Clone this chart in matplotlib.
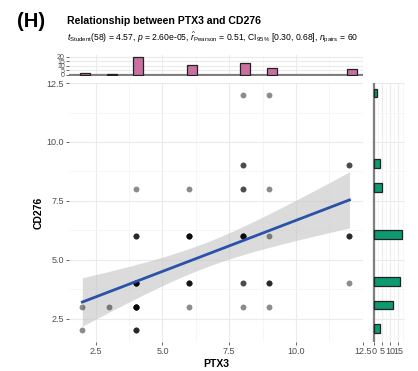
import numpy as np
import matplotlib
matplotlib.use("Agg")
import matplotlib.pyplot as plt

plt.rcParams["font.family"] = ["Liberation Sans", "DejaVu Sans"]
plt.rcParams["mathtext.fontset"] = "custom"
plt.rcParams["mathtext.rm"] = "Liberation Sans"
plt.rcParams["mathtext.it"] = "Liberation Sans:italic"
plt.rcParams["mathtext.bf"] = "Liberation Sans:bold"

# observed (PTX3, CD276) pairs and how many subjects share each pair
pair_x = [2, 2, 3, 4, 4, 4, 4, 4, 6, 6, 6, 6, 8, 8, 8, 8, 8, 8, 9, 9, 9, 9, 9, 12, 12, 12]
pair_y = [2, 3, 3, 2, 3, 4, 6, 8, 3, 4, 6, 8, 3, 4, 6, 8, 9, 12, 3, 4, 6, 8, 12, 4, 6, 9]
pair_n = [1, 1, 1, 3, 7, 6, 3, 1, 1, 4, 5, 1, 1, 2, 5, 2, 2, 1, 1, 3, 1, 1, 1, 1, 3, 2]

x_ticks = [2.5, 5.0, 7.5, 10.0, 12.5]
y_ticks = [2.5, 5.0, 7.5, 10.0, 12.5]
top_ticks = [0, 5, 10, 15, 20]
right_ticks = [0, 5, 10, 15]

subtitle = (r"$t_{\mathrm{Student}}$(58) = 4.57, $p$ = 2.60e-05, "
            r"$\widehat{r}_{\mathrm{Pearson}}$ = 0.51, CI$_{95\%}$ [0.30, 0.68], "
            r"$n_{\mathrm{pairs}}$ = 60")

x = np.repeat(pair_x, pair_n).astype(float)
y = np.repeat(pair_y, pair_n).astype(float)

GRID = "#EBEBEB"
MINOR = "#F5F5F5"
TICKC = "#4D4D4D"

fig = plt.figure(figsize=(4.18, 3.71), dpi=100)
ax = fig.add_axes([0.165, 0.078, 0.703, 0.698])
axt = fig.add_axes([0.165, 0.795, 0.703, 0.057], sharex=ax)
axr = fig.add_axes([0.89, 0.078, 0.079, 0.698], sharey=ax)


def style(a):
    a.set_facecolor("white")
    for s in a.spines.values():
        s.set_visible(False)
    a.tick_params(colors=TICKC, labelsize=6.5, length=2, width=0.6, pad=1.5)
    a.tick_params(which="minor", length=0)
    a.grid(True, which="major", color=GRID, lw=0.8, zorder=0)
    a.grid(True, which="minor", color=MINOR, lw=0.6, zorder=0)
    a.set_axisbelow(True)


# --- main scatter ---
style(ax)
ax.scatter(x, y, s=18, color="black", alpha=0.45, lw=0, zorder=3)

slope, icept = np.polyfit(x, y, 1)
xs = np.linspace(x.min(), x.max(), 80)
fit = icept + slope * xs
n = len(x)
resid = y - (icept + slope * x)
se_res = np.sqrt(np.sum(resid ** 2) / (n - 2))
se_fit = se_res * np.sqrt(1 / n + (xs - x.mean()) ** 2 / np.sum((x - x.mean()) ** 2))
tq = 2.0017
ax.fill_between(xs, fit - tq * se_fit, fit + tq * se_fit, color="#C4C4C4", alpha=0.6, lw=0, zorder=2)
ax.plot(xs, fit, color="#2A52A8", lw=2, zorder=4)

ax.set_xlim(1.5, 12.5)
ax.set_ylim(1.5, 12.5)
ax.set_xticks(x_ticks)
ax.set_yticks(y_ticks)
ax.set_xticks([3.75, 6.25, 8.75, 11.25], minor=True)
ax.set_yticks([3.75, 6.25, 8.75, 11.25], minor=True)
ax.set_xticklabels([f"{v:.1f}" for v in x_ticks])
ax.set_yticklabels([f"{v:.1f}" for v in y_ticks])
ax.set_xlabel("PTX3", fontsize=7.5, fontweight="bold", labelpad=2)
ax.set_ylabel("CD276", fontsize=7.5, fontweight="bold", labelpad=2)

# --- top marginal histogram ---
style(axt)
ux, cx = np.unique(x, return_counts=True)
axt.bar(ux + 0.1, cx, width=0.37, color="#C9709F", edgecolor="#222222", lw=0.9, zorder=3)
axt.axhline(0, color="#7F7F7F", lw=1.6, zorder=2)
axt.set_ylim(-1.5, 22)
axt.set_yticks(top_ticks)
axt.tick_params(axis="y", labelsize=5, pad=1)
axt.tick_params(axis="x", labelbottom=False, length=0)

# --- right marginal histogram ---
style(axr)
uy, cy = np.unique(y, return_counts=True)
axr.barh(uy + 0.08, cy, height=0.37, color="#0E9A70", edgecolor="#222222", lw=0.9, zorder=3)
axr.axvline(0, color="#7F7F7F", lw=1.6, zorder=2)
axr.set_xlim(-1, 19)
axr.set_xticks(right_ticks)
axr.set_xticks([2.5, 7.5, 12.5, 17.5], minor=True)
axr.tick_params(axis="y", labelleft=False, length=0)
axr.tick_params(axis="x", labelsize=6.5, pad=1.5)

# --- titles ---
fig.text(0.04, 0.928, "(H)", fontsize=14.5, fontweight="bold")
fig.text(0.16, 0.935, "Relationship between PTX3 and CD276", fontsize=7.6, fontweight="bold")
fig.text(0.16, 0.89, subtitle, fontsize=6.2)

fig.savefig("out.png", dpi=100)
